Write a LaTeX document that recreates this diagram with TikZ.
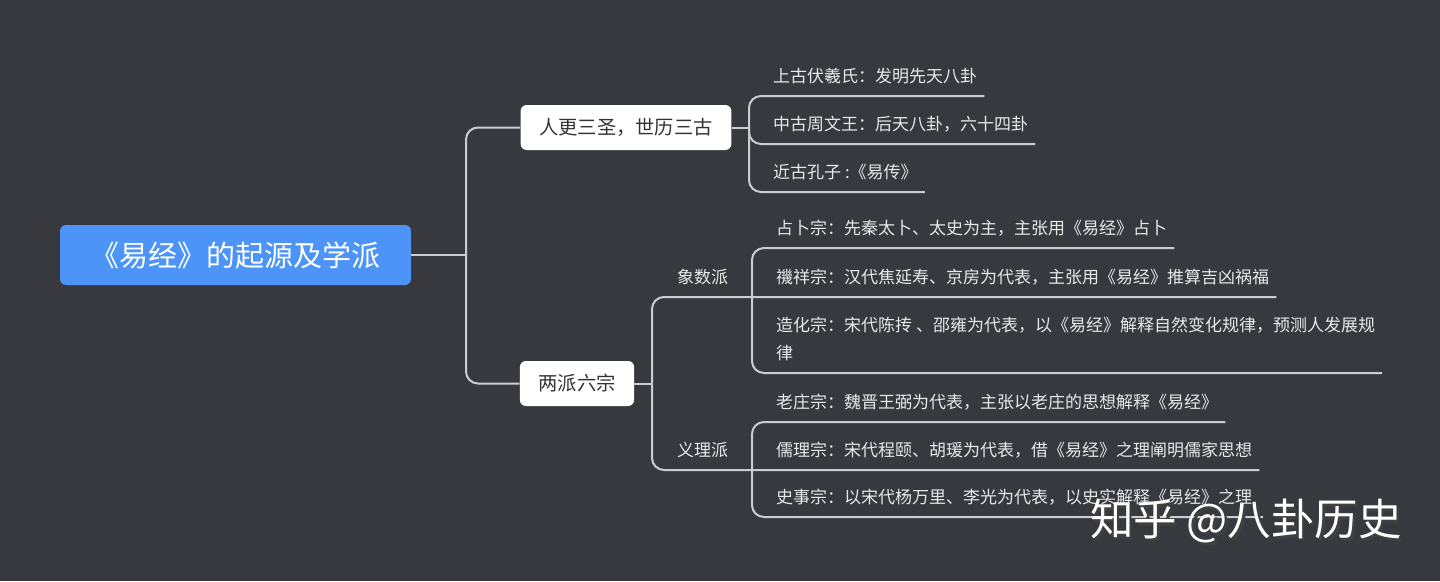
\documentclass[tikz,border=0pt]{standalone}
\usepackage{fontspec}
\newfontfamily\cjk{Noto Sans CJK SC}
\usepackage{xcolor}
\definecolor{bgcol}{HTML}{37393E}
\definecolor{rootblue}{HTML}{4D94F8}
\definecolor{linecol}{HTML}{CDCDD0}
\definecolor{leaftext}{HTML}{E8E8E8}
\definecolor{topictext}{HTML}{333333}

\begin{document}
\begin{tikzpicture}[x=1pt,y=-1pt,
	link/.style={draw=linecol, line width=2pt, rounded corners=12pt},
	rootbox/.style={fill=rootblue, rounded corners=6pt, text=white, inner sep=0pt,
		minimum width=351pt, minimum height=60pt, font=\cjk\fontsize{29}{34}\selectfont},
	topicbox/.style={fill=white, rounded corners=6pt, text=topictext, inner xsep=18.5pt,
		inner ysep=0pt, minimum height=45pt, font=\cjk\fontsize{19.3}{24}\selectfont},
	leaf/.style={anchor=south west, text=leaftext, align=left, inner xsep=7pt,
		inner ysep=13pt, text depth=0pt, font=\cjk\fontsize{17}{28}\selectfont},
	markfont/.style={font=\cjk\fontsize{43.5}{48}\selectfont}]
	\fill[bgcol] (0,0) rectangle (1440,581);
	\useasboundingbox (0,0) rectangle (1440,581);

	\node[rootbox] (root) at (235.5,255) {《易经》的起源及学派};
	\node[topicbox] (sansheng) at (626,127.5) {人更三圣，世历三古};
	\node[topicbox] (liangpai) at (577,383.5) {两派六宗};

	\coordinate (hub0) at (466,255);
	\coordinate (hub1) at (749,127.5);
	\coordinate (hub2) at (652,383.5);
	\coordinate (hubX) at (752,297);
	\coordinate (hubY) at (752,470);

	\foreach \leafname/\leafx/\liney/\leaftext in
	{
		shanggu/766/96/{上古伏羲氏：发明先天八卦},
		zhonggu/766/144/{中古周文王：后天八卦，六十四卦},
		jingu/766/192/{近古孔子 :《易传》},
		xiangshu/670/297/{象数派},
		zhanbu/769/248/{占卜宗：先秦太卜、太史为主，主张用《易经》占卜},
		jixiang/769/297/{禨祥宗：汉代焦延寿、京房为代表，主张用《易经》推算吉凶祸福},
		zaohua/769/373/{造化宗：宋代陈抟 、邵雍为代表，以《易经》解释自然变化规律，预测人发展规\\律},
		yili/670/470/{义理派},
		laozhuang/769/422/{老庄宗：魏晋王弼为代表，主张以老庄的思想解释《易经》},
		ruli/769/470/{儒理宗：宋代程颐、胡瑗为代表，借《易经》之理阐明儒家思想},
		shishi/769/517/{史事宗：以宋代杨万里、李光为代表，以史实解释《易经》之理}
	}
	{
		\node[leaf] (\leafname) at (\leafx,\liney) {\leaftext};
	}

	% trunk
	\draw[link] (root.east) -- (hub0);
	\draw[link] (sansheng.west) -| (hub0) |- (liangpai.west);
	% first topic
	\draw[link] (sansheng.east) -- (hub1);
	\draw[link] (shanggu.south east) -| (hub1) |- (jingu.south east);
	\draw[link] (hub1) |- (zhonggu.south east);
	% second topic
	\draw[link] (liangpai.east) -- (hub2);
	\draw[link] (hub2) |- (jixiang.south east);
	\draw[link] (hub2) |- (ruli.south east);
	\draw[link] (zhanbu.south east) -| (hubX) |- (zaohua.south east);
	\draw[link] (laozhuang.south east) -| (hubY) |- (shishi.south east);

	\node[markfont, text=black!75] (markshade) at (1248.5,523.5) {知乎 @八卦历史};
	\node[markfont, text=white] (mark) at (1246,521) {知乎 @八卦历史};
\end{tikzpicture}
\end{document}
